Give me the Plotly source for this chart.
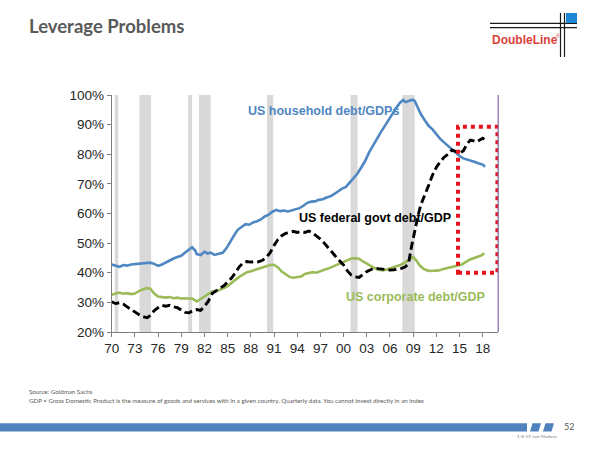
import plotly.graph_objects as go

# ---------------- data ----------------
household_years = [1970.0, 1970.5, 1971.0, 1971.5, 1972.0, 1972.5, 1973.0, 1973.5, 1974.0, 1974.5,
                   1975.0, 1975.5, 1976.0, 1976.5, 1977.0, 1977.5, 1978.0, 1978.5, 1979.0, 1979.5,
                   1980.0, 1980.4, 1980.8, 1981.0, 1981.5, 1982.0, 1982.4, 1982.8, 1983.3, 1983.8,
                   1984.4, 1984.9, 1985.3, 1985.8, 1986.3, 1986.8, 1987.3, 1987.8, 1988.3, 1988.8,
                   1989.3, 1989.8, 1990.3, 1990.8, 1991.3, 1991.8, 1992.3, 1992.8, 1993.3, 1993.8,
                   1994.3, 1994.8, 1995.3, 1995.8, 1996.3, 1996.8, 1997.3, 1997.8, 1998.3, 1998.8,
                   1999.3, 1999.8, 2000.3, 2000.8, 2001.3, 2001.8, 2002.3, 2002.8, 2003.3, 2003.8,
                   2004.3, 2004.8, 2005.3, 2005.8, 2006.3, 2006.8, 2007.3, 2007.7, 2008.0, 2008.4,
                   2008.9, 2009.2, 2009.6, 2010.0, 2010.5, 2011.0, 2011.5, 2012.0, 2012.5, 2013.0,
                   2013.5, 2014.0, 2014.5, 2015.0, 2015.5, 2016.0, 2016.5, 2017.0, 2017.5, 2018.0,
                   2018.3]
household_debt = [42.8, 42.3, 42.0, 42.6, 42.4, 42.8, 42.9, 43.1, 43.2, 43.4,
                  43.4, 43.0, 42.3, 42.8, 43.5, 44.2, 44.8, 45.3, 45.7, 46.8,
                  47.8, 48.6, 47.5, 46.3, 46.0, 47.1, 46.5, 46.8, 46.0, 46.4,
                  46.8, 48.5, 50.5, 52.5, 54.5, 55.6, 56.4, 56.2, 57.0, 57.4,
                  58.0, 59.0, 59.6, 60.6, 61.2, 60.8, 61.0, 60.7, 61.1, 61.4,
                  61.8, 62.6, 63.6, 64.0, 64.1, 64.6, 64.8, 65.4, 65.8, 66.6,
                  67.6, 68.4, 69.0, 70.5, 72.0, 73.5, 75.6, 77.8, 80.6, 83.0,
                  85.2, 87.4, 89.4, 91.6, 93.6, 95.6, 97.4, 98.3, 97.6, 98.0,
                  98.4, 98.0, 95.5, 93.5, 91.5, 89.6, 88.4, 86.8, 85.2, 84.0,
                  82.8, 81.5, 80.5, 79.4, 78.6, 78.2, 78.0, 77.4, 76.9, 76.5,
                  75.8]

federal_years = [1970.0, 1970.5, 1971.0, 1971.5, 1972.0, 1972.5, 1973.0, 1973.5, 1974.0, 1974.6,
                 1975.0, 1975.5, 1976.0, 1976.5, 1977.0, 1977.5, 1978.0, 1978.5, 1979.0, 1979.5,
                 1980.0, 1980.5, 1981.0, 1981.5, 1982.0, 1982.5, 1983.0, 1983.5, 1984.0, 1984.5,
                 1985.0, 1985.5, 1986.0, 1986.5, 1987.0, 1987.5, 1988.0, 1988.5, 1989.0, 1989.5,
                 1990.0, 1990.5, 1991.0, 1991.5, 1992.0, 1992.5, 1993.0, 1993.5, 1994.0, 1994.5,
                 1995.0, 1995.5, 1996.0, 1996.5, 1997.0, 1997.5, 1998.0, 1998.5, 1999.0, 1999.5,
                 2000.0, 2000.5, 2001.0, 2001.5, 2002.0, 2002.5, 2003.0, 2003.5, 2004.0, 2004.5,
                 2005.0, 2005.5, 2006.0, 2006.5, 2007.0, 2007.5, 2008.0, 2008.4, 2008.8, 2009.2,
                 2009.6, 2010.0, 2010.5, 2011.0, 2011.5, 2012.0, 2012.5, 2013.0, 2013.5, 2014.0,
                 2014.5, 2015.0, 2015.5, 2016.0, 2016.4, 2016.8, 2017.2, 2017.6, 2018.0, 2018.2]
federal_debt = [30.2, 29.6, 29.9, 29.4, 28.5, 27.6, 26.6, 25.9, 25.2, 24.8,
                25.6, 27.2, 28.2, 29.0, 28.7, 29.0, 28.5, 28.2, 27.4, 26.6,
                26.5, 27.2, 27.6, 27.3, 28.6, 30.4, 33.0, 34.0, 34.8, 35.6,
                36.8, 38.2, 40.0, 42.0, 43.3, 43.8, 43.6, 43.8, 43.7, 44.2,
                45.2, 46.8, 49.2, 51.2, 52.5, 53.3, 53.6, 54.0, 53.6, 53.9,
                53.6, 54.1, 53.4, 52.4, 51.4, 50.0, 48.4, 46.8, 45.4, 44.0,
                42.6, 40.6, 39.2, 38.6, 38.4, 39.4, 40.4, 41.0, 41.6, 41.4,
                41.2, 40.9, 40.9, 41.0, 41.2, 41.5, 42.0, 43.2, 49.0, 54.5,
                59.0, 63.0, 66.0, 69.5, 73.0, 75.6, 77.5, 79.0, 80.0, 81.4,
                81.0, 80.3, 81.2, 83.6, 84.8, 84.6, 84.2, 84.8, 85.4, 85.0]

corporate_years = [1970.0, 1970.5, 1971.0, 1971.5, 1972.0, 1972.5, 1973.0, 1973.5, 1974.0, 1974.5,
                   1975.0, 1975.5, 1976.0, 1976.5, 1977.0, 1977.5, 1978.0, 1978.5, 1979.0, 1979.5,
                   1980.0, 1980.5, 1981.0, 1981.5, 1982.0, 1982.5, 1983.0, 1983.5, 1984.0, 1984.5,
                   1985.0, 1985.5, 1986.0, 1986.5, 1987.0, 1987.5, 1988.0, 1988.5, 1989.0, 1989.5,
                   1990.0, 1990.5, 1991.0, 1991.5, 1992.0, 1992.5, 1993.0, 1993.5, 1994.0, 1994.5,
                   1995.0, 1995.5, 1996.0, 1996.5, 1997.0, 1997.5, 1998.0, 1998.5, 1999.0, 1999.5,
                   2000.0, 2000.5, 2001.0, 2001.5, 2002.0, 2002.5, 2003.0, 2003.5, 2004.0, 2004.5,
                   2005.0, 2005.5, 2006.0, 2006.5, 2007.0, 2007.5, 2008.0, 2008.5, 2009.0, 2009.4,
                   2009.8, 2010.3, 2010.8, 2011.3, 2011.8, 2012.3, 2012.8, 2013.3, 2013.8, 2014.3,
                   2014.8, 2015.3, 2015.8, 2016.3, 2016.8, 2017.3, 2017.8, 2018.2]
corporate_debt = [32.6, 33.0, 33.3, 32.9, 33.1, 32.8, 33.0, 33.8, 34.3, 34.8,
                  34.6, 33.0, 32.0, 31.7, 31.6, 31.8, 31.4, 31.6, 31.3, 31.4,
                  31.2, 31.2, 30.3, 31.2, 32.0, 33.0, 33.7, 33.8, 34.2, 34.8,
                  35.5, 36.4, 37.6, 38.6, 39.5, 40.2, 40.5, 41.0, 41.4, 41.8,
                  42.2, 42.6, 42.7, 41.8, 40.4, 39.4, 38.6, 38.3, 38.5, 38.7,
                  39.6, 39.8, 40.2, 40.0, 40.6, 41.0, 41.4, 42.0, 42.6, 43.2,
                  43.8, 44.4, 44.8, 44.9, 44.7, 43.8, 43.0, 42.4, 41.6, 41.0,
                  40.8, 41.0, 41.4, 41.8, 42.3, 42.8, 43.6, 44.6, 45.3, 44.2,
                  42.6, 41.4, 40.8, 40.6, 40.6, 40.8, 41.2, 41.5, 41.7, 42.0,
                  42.3, 42.8, 43.6, 44.4, 44.9, 45.4, 45.8, 46.6]

recession_starts = [1970.4, 1973.6, 1979.9, 1981.3, 1990.1, 2000.9, 2007.6]
recession_ends = [1970.85, 1975.1, 1980.4, 1982.8, 1990.9, 2001.8, 2009.2]

highlight_years = [2014.8, 2019.9]
highlight_pct = [40.0, 89.3]

x_tick_years = list(range(1970, 2019, 3))
x_tick_labels = [f"{y % 100:02d}" for y in x_tick_years]
y_tick_values = [20, 30, 40, 50, 60, 70, 80, 90, 100]
y_tick_labels = [f"{v}%" for v in y_tick_values]

series_labels = ["US household debt/GDPs", "US federal govt debt/GDP", "US corporate debt/GDP"]
label_years = [1987.4, 1994.0, 2000.1]
label_pct = [94.6, 58.4, 31.9]

# ---------------- figure ----------------
W, H = 600, 450
BLUE = "#4f87c3"
GREEN = "#9bbb59"
FONT = "Liberation Sans, Arial, sans-serif"

fig = go.Figure()

fig.add_trace(go.Scatter(x=household_years, y=household_debt, mode="lines",
                         line=dict(color=BLUE, width=2.6), hoverinfo="skip"))
fig.add_trace(go.Scatter(x=corporate_years, y=corporate_debt, mode="lines",
                         line=dict(color=GREEN, width=2.6), hoverinfo="skip"))
fig.add_trace(go.Scatter(x=federal_years, y=federal_debt, mode="lines",
                         line=dict(color="#000000", width=2.9, dash="8px,4px"), hoverinfo="skip"))

shapes = []
for s, e in zip(recession_starts, recession_ends):
    shapes.append(dict(type="rect", xref="x", yref="y domain", x0=s, x1=e, y0=0, y1=1,
                       fillcolor="#d9d9d9", line=dict(width=0), layer="below"))

# highlight box
shapes.append(dict(type="rect", xref="x", yref="y",
                   x0=highlight_years[0], x1=highlight_years[1],
                   y0=highlight_pct[0], y1=highlight_pct[1],
                   line=dict(color="#e8141b", width=4, dash="dot"), layer="above"))

# right purple frame line
shapes.append(dict(type="line", xref="x domain", yref="y domain", x0=1, x1=1, y0=0, y1=1,
                   line=dict(color="#8064a2", width=1.2)))

def px(x):
    return x / W

def py(y):
    return 1 - y / H

# logo lines
for yy in (23.3, 27.7):
    shapes.append(dict(type="line", xref="paper", yref="paper", x0=px(490), x1=px(577),
                       y0=py(yy), y1=py(yy), line=dict(color="#1a1a1a", width=1.2)))
for xx in (560.5, 564.5):
    shapes.append(dict(type="line", xref="paper", yref="paper", x0=px(xx), x1=px(xx),
                       y0=py(13), y1=py(57), line=dict(color="#1a1a1a", width=1.2)))
shapes.append(dict(type="rect", xref="paper", yref="paper", x0=px(566), x1=px(577),
                   y0=py(23), y1=py(13), fillcolor="#1b87d6", line=dict(width=0)))

# bottom bar
shapes.append(dict(type="rect", xref="paper", yref="paper", x0=0, x1=px(527),
                   y0=py(431.5), y1=py(423.3), fillcolor="#4f81bd", line=dict(width=0)))
for x0 in (530, 543):
    path = (f"M {px(x0)} {py(431.5)} L {px(x0 + 2.5)} {py(423.3)} "
            f"L {px(x0 + 11)} {py(423.3)} L {px(x0 + 8.5)} {py(431.5)} Z")
    shapes.append(dict(type="path", xref="paper", yref="paper", path=path,
                       fillcolor="#4f81bd", line=dict(width=0)))

annotations = []
label_colors = [BLUE, "#000000", GREEN]
for t, xx, yy, c in zip(series_labels, label_years, label_pct, label_colors):
    annotations.append(dict(text=t, x=xx, y=yy, xref="x", yref="y", xanchor="left",
                            yanchor="middle", showarrow=False,
                            font=dict(family=FONT, size=12.5, color=c, weight="bold")))

annotations += [
    dict(text="Leverage Problems", x=px(27), y=py(26), xref="paper", yref="paper",
         xanchor="left", yanchor="middle", showarrow=False,
         font=dict(family="Lato, Open Sans, sans-serif", size=18.5, color="#595959", weight="bold")),
    dict(text="DoubleLine", x=px(525), y=py(40.5), xref="paper", yref="paper",
         xanchor="center", yanchor="middle", showarrow=False,
         font=dict(family=FONT, size=12, color="#d9413a", weight="bold")),
    dict(text="®", x=px(558), y=py(36), xref="paper", yref="paper",
         xanchor="center", yanchor="middle", showarrow=False,
         font=dict(family=FONT, size=5, color="#d9413a")),
    dict(text="Source: Goldman Sachs", x=px(27), y=py(391.5), xref="paper", yref="paper",
         xanchor="left", yanchor="middle", showarrow=False,
         font=dict(family="Lato, sans-serif", size=6.2, color="#595959")),
    dict(text="GDP = Gross Domestic Product is the measure of goods and services with in a given country. "
              "Quarterly data. You cannot invest directly in an index",
         x=px(27), y=py(400), xref="paper", yref="paper",
         xanchor="left", yanchor="middle", showarrow=False,
         font=dict(family="Lato, sans-serif", size=6.2, color="#595959")),
    dict(text="52", x=px(569), y=py(426.5), xref="paper", yref="paper",
         xanchor="center", yanchor="middle", showarrow=False,
         font=dict(family="Lato, sans-serif", size=9, color="#595959")),
    dict(text="1-8-19 Just Markets", x=px(537), y=py(436), xref="paper", yref="paper",
         xanchor="center", yanchor="middle", showarrow=False,
         font=dict(family="Lato, sans-serif", size=4.5, color="#808080")),
]

fig.update_layout(
    width=W, height=H,
    margin=dict(l=0, r=0, t=0, b=0, autoexpand=False),
    paper_bgcolor="white", plot_bgcolor="white",
    showlegend=False,
    shapes=shapes,
    annotations=annotations,
    xaxis=dict(domain=[111.7 / W, 498.2 / W], range=[1970, 2020], automargin=False,
               tickmode="array", tickvals=x_tick_years, ticktext=x_tick_labels,
               showgrid=False, zeroline=False, showline=True, linecolor="#7f7f7f", linewidth=1,
               ticks="outside", ticklen=4, tickcolor="#7f7f7f",
               tickfont=dict(family=FONT, size=13.5, color="#262626")),
    yaxis=dict(domain=[1 - 332 / H, 1 - 95 / H], range=[20, 100], automargin=False,
               tickmode="array", tickvals=y_tick_values, ticktext=y_tick_labels,
               showgrid=False, zeroline=False, showline=True, linecolor="#7f7f7f", linewidth=1,
               ticks="outside", ticklen=4, tickcolor="#7f7f7f",
               tickfont=dict(family=FONT, size=13.5, color="#262626")),
)

fig.write_html("out.html", config={"displayModeBar": False},
               post_script="document.body.style.margin='0';document.body.style.padding='0';"
                           "document.body.style.overflow='hidden';")
